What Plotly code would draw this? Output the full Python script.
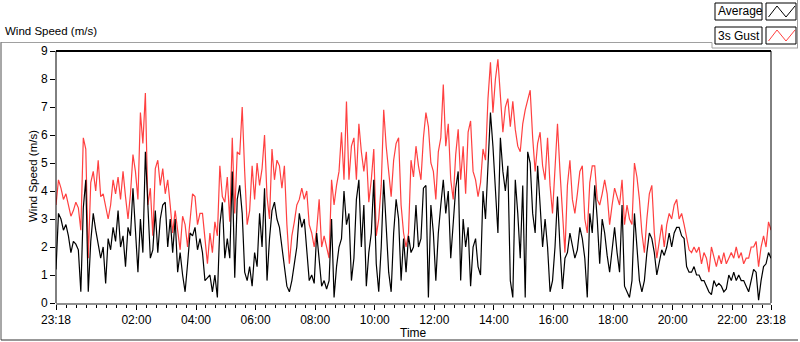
import plotly.graph_objects as go
import pandas as pd

# ---------------- data (5-minute samples) ----------------
start_time = "2014-06-01 23:18"
sample_minutes = 5

gust = [
    3.5, 4.4, 4.1, 3.7, 3.9, 3.5, 3.1, 3.3, 3.6, 3.4, 2.6, 5.9, 5.5, 1.6, 4.3, 4.7,
    4.0, 5.1, 3.8, 3.9, 3.5, 3.0, 3.5, 4.4, 3.9, 4.5, 3.7, 4.7, 3.8, 3.0, 3.9, 5.3,
    4.7, 3.7, 6.8, 5.7, 7.5, 3.5, 4.1, 2.4, 4.8, 5.1, 4.2, 4.8, 3.9, 4.4, 3.5, 2.5,
    3.3, 2.5, 1.9, 3.1, 2.8, 2.0, 3.1, 3.9, 3.8, 2.8, 3.2, 3.2, 2.3, 1.4, 2.5, 1.8,
    2.9, 2.4, 4.9, 3.8, 3.6, 4.5, 2.9, 5.9, 3.2, 5.4, 5.3, 7.0, 4.7, 2.8, 3.3, 4.9,
    3.7, 5.0, 4.2, 4.8, 6.0, 3.8, 3.0, 5.5, 4.4, 5.1, 4.9, 4.1, 4.9, 2.8, 1.4, 2.4, 2.9,
    3.5, 3.7, 4.1, 3.7, 4.0, 2.8, 2.5, 2.0, 2.6, 3.7, 2.0, 2.4, 2.0, 1.6, 4.4, 3.5,
    4.2, 4.7, 6.1, 4.4, 7.2, 4.4, 5.6, 5.9, 4.4, 6.4, 5.4, 4.7, 5.4, 3.6, 4.4, 5.5,
    2.4, 3.0, 4.2, 6.9, 5.6, 4.7, 3.8, 5.1, 5.7, 5.9, 3.5, 2.5, 2.0, 2.5, 5.1, 4.5,
    5.6, 4.9, 4.4, 5.9, 6.8, 6.3, 5.0, 4.7, 3.7, 5.4, 5.9, 7.8, 5.6, 6.4, 4.4, 3.7, 5.3,
    6.2, 4.4, 5.6, 3.9, 6.1, 6.5, 4.7, 4.4, 3.8, 4.3, 5.5, 5.1, 7.3, 8.6, 6.8, 8.0,
    8.7, 7.3, 6.1, 7.0, 7.3, 6.3, 7.2, 6.2, 5.6, 5.4, 6.4, 6.9, 7.3, 7.6, 5.9, 4.7,
    5.7, 6.1, 4.9, 4.4, 5.9, 4.2, 3.2, 4.9, 6.4, 4.7, 3.2, 1.8, 4.2, 5.1, 3.7, 3.2,
    3.9, 4.7, 4.9, 3.0, 2.5, 4.3, 4.9, 4.9, 3.7, 3.5, 3.9, 4.4, 3.9, 2.8, 3.5, 4.1,
    3.8, 3.5, 4.4, 2.8, 3.5, 3.0, 2.8, 5.0, 4.5, 3.7, 2.5, 1.8, 3.0, 3.9, 4.2, 2.5,
    1.6, 2.3, 2.8, 2.0, 2.8, 3.2, 3.0, 3.5, 3.7, 3.0, 3.2, 2.8, 2.3, 1.9, 1.8, 2.0, 1.8,
    2.0, 1.4, 1.8, 1.6, 1.1, 2.0, 1.6, 1.3, 1.7, 1.4, 1.8, 1.4, 1.6, 1.8, 1.6, 2.0,
    1.6, 1.8, 1.4, 1.6, 1.6, 2.0, 2.0, 2.2, 1.3, 2.0, 2.4, 2.0, 2.9, 2.6,
]

average = [
    1.2, 3.2, 3.0, 2.6, 2.8, 2.4, 1.8, 2.2, 2.1, 1.9, 0.4, 3.4, 4.4, 0.4, 2.2, 3.2,
    2.6, 2.1, 1.6, 2.0, 0.7, 2.3, 1.9, 2.7, 2.2, 3.3, 2.0, 2.4, 1.3, 2.7, 2.4, 4.1,
    2.5, 1.1, 3.0, 1.8, 5.4, 3.2, 1.6, 1.9, 3.3, 1.8, 3.0, 3.5, 3.6, 2.0, 3.0, 1.8,
    3.0, 1.1, 1.8, 1.0, 0.4, 1.4, 2.5, 2.4, 2.7, 1.9, 2.3, 1.8, 0.8, 0.9, 1.0, 0.4,
    1.0, 0.2, 2.8, 3.6, 1.6, 2.3, 1.6, 4.7, 0.9, 3.7, 4.2, 3.2, 1.1, 0.8, 1.3, 0.6,
    1.8, 1.3, 3.2, 2.0, 4.1, 0.8, 2.3, 3.3, 3.6, 3.0, 2.7, 2.0, 1.3, 0.6, 0.4, 0.8, 1.4,
    2.0, 3.2, 2.7, 3.0, 1.9, 0.8, 1.0, 0.7, 2.5, 1.6, 0.6, 0.8, 0.5, 0.8, 3.0, 0.2,
    1.3, 2.0, 2.3, 4.0, 2.8, 3.2, 0.8, 1.6, 3.7, 4.4, 2.0, 3.5, 0.6, 1.8, 2.5, 4.4,
    1.4, 0.4, 2.0, 4.4, 2.8, 1.1, 0.4, 2.5, 3.7, 3.0, 0.8, 2.3, 1.1, 2.4, 1.8, 2.0,
    3.5, 2.0, 2.3, 4.1, 4.2, 0.2, 3.5, 2.5, 0.8, 2.5, 3.5, 4.4, 3.2, 4.0, 1.6, 3.0, 4.1,
    4.7, 0.8, 3.0, 2.0, 2.7, 0.6, 2.0, 2.3, 1.3, 1.0, 4.0, 3.0, 4.9, 6.8, 5.6, 4.1,
    2.5, 5.9, 4.7, 4.0, 4.9, 0.8, 0.2, 4.4, 3.2, 1.6, 4.2, 0.2, 5.4, 5.0, 3.2, 2.5,
    4.9, 3.5, 2.0, 3.0, 2.0, 0.4, 0.8, 2.0, 3.8, 2.0, 0.5, 1.6, 1.8, 2.5, 2.0, 1.6,
    1.9, 2.7, 2.3, 1.6, 0.2, 3.2, 2.5, 4.2, 3.0, 1.4, 3.0, 2.5, 1.7, 1.1, 1.9, 2.7,
    1.8, 1.1, 3.5, 0.6, 0.4, 0.2, 0.8, 3.2, 2.0, 0.8, 0.4, 0.8, 1.8, 2.5, 2.3, 1.8,
    1.0, 1.4, 1.9, 1.7, 2.0, 2.5, 2.0, 2.5, 2.7, 2.7, 2.4, 2.3, 1.3, 1.1, 1.1, 1.3, 1.0,
    1.0, 0.8, 0.8, 0.6, 0.4, 0.3, 0.8, 0.6, 0.7, 0.6, 0.4, 0.5, 1.0, 0.8, 1.1, 0.8,
    1.0, 0.8, 0.8, 0.6, 0.4, 0.8, 1.2, 1.1, 0.1, 0.8, 1.3, 1.4, 1.8, 1.6,
]

x_tick_labels = ["23:18", "02:00", "04:00", "06:00", "08:00", "10:00", "12:00",
                 "14:00", "16:00", "18:00", "20:00", "22:00", "23:18"]
y_tick_values = [0, 1, 2, 3, 4, 5, 6, 7, 8, 9]

# ---------------- build ----------------
times = pd.date_range(start_time, periods=len(gust), freq=f"{sample_minutes}min")
t0, t1 = times[0], times[-1]
day2 = t0.normalize() + pd.Timedelta(days=1)
tick_vals = [t0] + [day2 + pd.Timedelta(hours=h) for h in range(2, 24, 2)] + [t1]

FONT = "Liberation Sans, Arial, sans-serif"
RED = "#FF4040"

# plot box in pixels
PX0, PX1, PY0, PY1 = 56, 771, 51, 303
W, H = 800, 342


def xp(px):
    return (px - PX0) / (PX1 - PX0)


def yp(py):
    return (PY1 - py) / (PY1 - PY0)


fig = go.Figure()
fig.add_trace(go.Scatter(x=times, y=gust, mode="lines", name="3s Gust",
                         line=dict(color=RED, width=1.2), showlegend=False))
fig.add_trace(go.Scatter(x=times, y=average, mode="lines", name="Average",
                         line=dict(color="black", width=1.2), showlegend=False))

shapes = []
annotations = []

# plot frame (top/left/right dark, bottom grey axis line)
shapes.append(dict(type="line", xref="paper", yref="paper", x0=xp(PX0), x1=xp(PX1),
                   y0=1, y1=1, line=dict(color="black", width=2), layer="above"))
shapes.append(dict(type="line", xref="paper", yref="paper", x0=0, x1=0,
                   y0=0, y1=1, line=dict(color="black", width=1), layer="above"))
shapes.append(dict(type="line", xref="paper", yref="paper", x0=1, x1=1,
                   y0=0, y1=1, line=dict(color="black", width=1), layer="above"))

# outer graph frame
grey = "#A0A0A0"
shapes.append(dict(type="line", xref="paper", yref="paper", x0=xp(0.5), x1=xp(712),
                   y0=yp(42.5), y1=yp(42.5), line=dict(color=grey, width=1)))
shapes.append(dict(type="line", xref="paper", yref="paper", x0=xp(1), x1=xp(1),
                   y0=yp(42.5), y1=yp(340), line=dict(color="#505050", width=1)))
shapes.append(dict(type="line", xref="paper", yref="paper", x0=xp(1), x1=xp(798),
                   y0=yp(340), y1=yp(340), line=dict(color="#303030", width=1)))

# legend frame
shapes.append(dict(type="line", xref="paper", yref="paper", x0=xp(712), x1=xp(712),
                   y0=yp(42.5), y1=yp(48), line=dict(color=grey, width=1)))
shapes.append(dict(type="line", xref="paper", yref="paper", x0=xp(712), x1=xp(798),
                   y0=yp(48), y1=yp(48), line=dict(color=grey, width=1)))
shapes.append(dict(type="line", xref="paper", yref="paper", x0=xp(797.5), x1=xp(797.5),
                   y0=yp(0), y1=yp(48), line=dict(color=grey, width=1)))

legend_rows = [("Average", "black", 3, 20), ("3s Gust", RED, 27, 44)]
for label, col, ya, yb in legend_rows:
    shapes.append(dict(type="rect", xref="paper", yref="paper",
                       x0=xp(715), x1=xp(762), y0=yp(ya), y1=yp(yb),
                       line=dict(color="black", width=1), fillcolor="white"))
    shapes.append(dict(type="rect", xref="paper", yref="paper",
                       x0=xp(766), x1=xp(796), y0=yp(ya), y1=yp(yb),
                       line=dict(color="black", width=1), fillcolor="white"))
    zx = [768.5, 777, 786, 795]
    zy = [yb - 3, ya + 3, yb - 3, ya + 3]
    path = "M " + " L ".join(f"{xp(a)},{yp(b)}" for a, b in zip(zx, zy))
    shapes.append(dict(type="path", xref="paper", yref="paper", path=path,
                       line=dict(color=col, width=1)))
    annotations.append(dict(x=xp(716), y=yp((ya + yb) / 2), xref="paper", yref="paper",
                            text=label, showarrow=False, xanchor="left", yanchor="middle",
                            font=dict(family=FONT, size=12, color="black")))

# chart title
annotations.append(dict(x=xp(3), y=yp(31), xref="paper", yref="paper",
                        text="Wind Speed (m/s)", showarrow=False, xanchor="left",
                        yanchor="middle", font=dict(family=FONT, size=11.5, color="black")))
# axis titles
annotations.append(dict(x=xp(33), y=yp(176), xref="paper", yref="paper",
                        text="Wind Speed (m/s)", showarrow=False, textangle=-90,
                        xanchor="center", yanchor="middle",
                        font=dict(family=FONT, size=11.5, color="black")))
annotations.append(dict(x=xp(413), y=yp(333), xref="paper", yref="paper",
                        text="Time", showarrow=False, xanchor="center", yanchor="middle",
                        font=dict(family=FONT, size=12, color="black")))

fig.update_layout(
    width=W, height=H, autosize=False,
    margin=dict(l=PX0, r=W - PX1, t=PY0, b=H - PY1, pad=0),
    paper_bgcolor="white", plot_bgcolor="white",
    showlegend=False,
    shapes=shapes, annotations=annotations,
    xaxis=dict(type="date", range=[t0, t1], tickmode="array", tickvals=tick_vals,
               ticktext=x_tick_labels, ticks="outside", ticklen=5, tickcolor="black",
               tickfont=dict(family=FONT, size=12, color="black"),
               showgrid=False, zeroline=False, showline=True, linecolor="#909090",
               linewidth=2,
               minor=dict(dtick=20 * 60 * 1000, tick0=day2, ticks="outside",
                          ticklen=3, tickcolor="black", showgrid=False)),
    yaxis=dict(range=[0, 9], tickmode="array", tickvals=y_tick_values,
               ticks="outside", ticklen=5, tickcolor="black",
               tickfont=dict(family=FONT, size=12, color="black"),
               showgrid=False, zeroline=False, showline=False),
)

fig.write_html(
    "out.html",
    config={"displayModeBar": False},
    post_script="document.body.style.margin='0';document.body.style.overflow='hidden';",
)
